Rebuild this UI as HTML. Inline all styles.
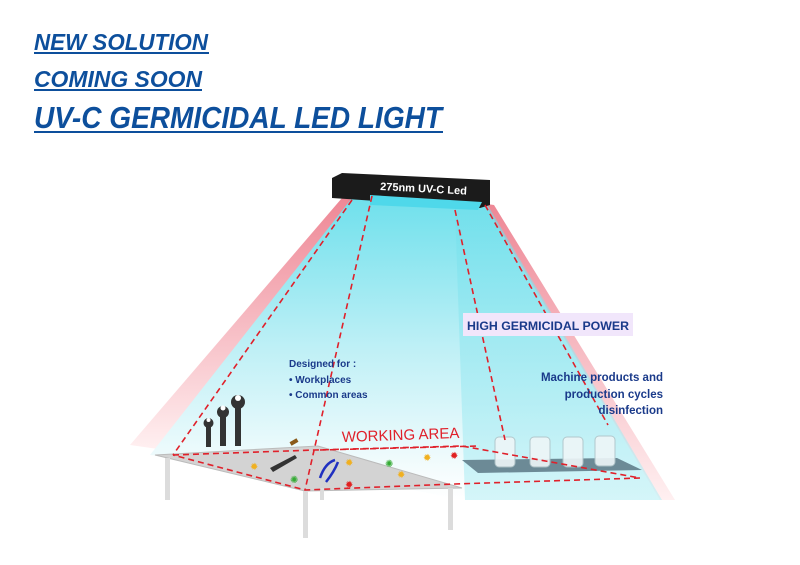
<!DOCTYPE html>
<html><head><style>
html,body{margin:0;padding:0;background:#fff;}
svg{display:block;}
</style></head><body>
<svg width="800" height="565" viewBox="0 0 800 565" xmlns="http://www.w3.org/2000/svg" font-family="Liberation Sans, sans-serif">
<defs>
<linearGradient id="cy" x1="0" y1="0" x2="0" y2="1">
<stop offset="0" stop-color="#6fe0ec"/><stop offset="0.5" stop-color="#bff0f6"/><stop offset="0.9" stop-color="#f4fcfd"/><stop offset="1" stop-color="#ffffff"/>
</linearGradient>
<linearGradient id="cy2" x1="0" y1="0" x2="0" y2="1">
<stop offset="0" stop-color="#70dfeb"/><stop offset="1" stop-color="#b8eff5"/>
</linearGradient>
<linearGradient id="rd" x1="0" y1="0" x2="0" y2="1">
<stop offset="0" stop-color="#ee8795"/><stop offset="1" stop-color="#fff0f1"/>
</linearGradient>
</defs>
<g fill="#0d4f9c" font-weight="bold" font-style="italic">
<text x="34" y="50" font-size="23" textLength="174" lengthAdjust="spacingAndGlyphs">NEW SOLUTION</text>
<rect x="34" y="52" width="175" height="2"/>
<text x="34" y="87" font-size="23" textLength="168" lengthAdjust="spacingAndGlyphs">COMING SOON</text>
<rect x="34" y="89" width="168" height="2"/>
<text x="34" y="128" font-size="31" textLength="408" lengthAdjust="spacingAndGlyphs">UV-C GERMICIDAL LED LIGHT</text>
<rect x="34" y="131" width="409" height="2"/>
</g>
<!-- red glows -->
<polygon points="342,198 356,200 165,450 130,445" fill="url(#rd)"/>
<polygon points="480,203 494,205 675,500 652,500" fill="url(#rd)"/>
<!-- main cyan cone -->
<polygon points="352,198 485,204 660,500 460,500 320,470 150,455" fill="url(#cy)"/>
<polygon points="455,208 487,204 662,500 465,500" fill="url(#cy2)" opacity="0.6"/>
<!-- lamp -->
<polygon points="332,178 342,173 490,180 490,205 480,208 332,198" fill="#1b1b1b"/>
<polygon points="370,195 482,202 478,210 370,205" fill="#4fd8ea"/>
<text x="380" y="190" font-size="11" font-weight="bold" fill="#fff" transform="rotate(3 380 190)">275nm UV-C Led</text>
<!-- table -->
<polygon points="155,455 318,446 462,488 305,491" fill="#d3d3d3" stroke="#bbb"/>
<g fill="#dcdcdc">
<rect x="165" y="458" width="5" height="42"/>
<rect x="303" y="491" width="5" height="47"/>
<rect x="320" y="488" width="4" height="12"/>
<rect x="448" y="488" width="5" height="42"/>
</g>
<!-- tray + jars -->
<polygon points="462,460 617,458 642,470 478,473" fill="#6c8a96"/>
<g fill="#eef6f8" stroke="#b0c4c8" opacity="0.9">
<rect x="495" y="437" width="20" height="30" rx="4"/>
<rect x="530" y="437" width="20" height="30" rx="4"/>
<rect x="563" y="437" width="20" height="30" rx="4"/>
<rect x="595" y="436" width="20" height="30" rx="4"/>
</g>
<!-- dashed lines -->
<g fill="none" stroke="#e0202a" stroke-width="1.6" stroke-dasharray="6,4">
<line x1="352" y1="200" x2="173" y2="455"/>
<line x1="372" y1="196" x2="305" y2="490"/>
<line x1="455" y1="210" x2="505" y2="440"/>
<line x1="485" y1="205" x2="608" y2="425"/>
<polyline points="173,455 315,450 462,446 640,478 455,484 305,490 173,455"/>
<polyline points="320,450 480,446"/>
</g>
<!-- tools -->
<g fill="#333">
<rect x="206" y="425" width="5" height="22"/><circle cx="208.5" cy="423" r="5"/>
<rect x="220" y="415" width="6" height="31"/><circle cx="223" cy="412" r="6"/>
<rect x="235" y="405" width="6" height="41"/><circle cx="238" cy="402" r="7"/>
<polygon points="270,468 295,455 297,458 273,472" />
<rect x="290" y="440" width="8" height="4" fill="#8a5a1a" transform="rotate(-30 294 442)"/>
</g>
<g fill="#fff"><circle cx="208.5" cy="420" r="2"/><circle cx="223" cy="408" r="2.5"/><circle cx="238" cy="398" r="3"/></g>
<path d="M320,478 q5,-15 15,-18 M326,482 q8,-10 12,-20" stroke="#2030c0" stroke-width="2.5" fill="none"/>
<g font-size="10">
<text x="250" y="470" fill="#f0b020">✹</text>
<text x="290" y="483" fill="#3a3">✺</text>
<text x="345" y="488" fill="#e02020">✹</text>
<text x="345" y="466" fill="#f0b020">✹</text>
<text x="385" y="467" fill="#3a3">✺</text>
<text x="397" y="478" fill="#f0b020">✹</text>
<text x="423" y="461" fill="#f0b020">✹</text>
<text x="450" y="459" fill="#e02020">✹</text>
</g>
<!-- labels -->
<rect x="463" y="313" width="170" height="23" fill="#f1e6fb"/>
<text x="467" y="330" font-size="11.5" font-weight="bold" fill="#1a3a8a" textLength="162" lengthAdjust="spacingAndGlyphs">HIGH GERMICIDAL POWER</text>
<g font-size="10" font-weight="bold" fill="#1a3a8a">
<text x="289" y="367">Designed for :</text>
<text x="289" y="383">• Workplaces</text>
<text x="289" y="398">• Common areas</text>
</g>
<g font-size="11.5" font-weight="bold" fill="#1a3a8a" text-anchor="end">
<text x="663" y="381">Machine products and</text>
<text x="663" y="398">production cycles</text>
<text x="663" y="414">disinfection</text>
</g>
<text x="342" y="442" font-size="15" fill="#e0202a" transform="rotate(-2 342 442)">WORKING AREA</text>
</svg>
</body></html>
